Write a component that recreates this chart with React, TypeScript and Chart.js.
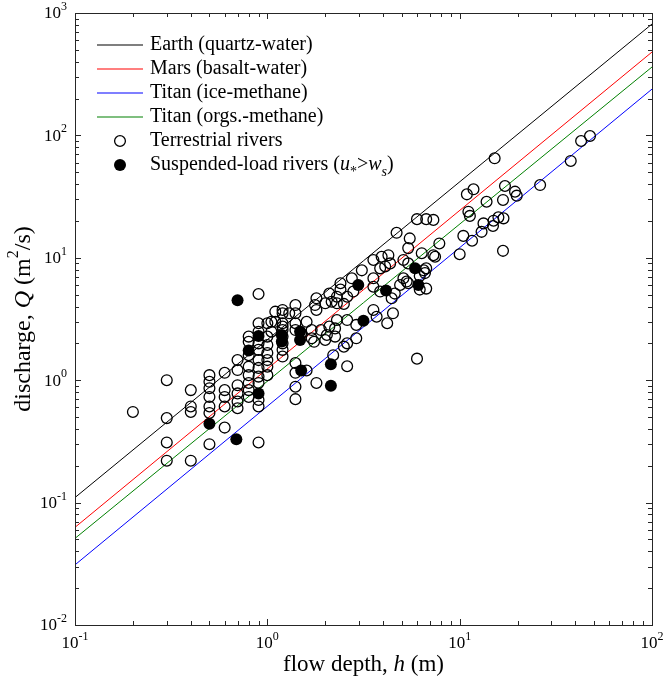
import React, { useEffect, useRef } from "react";
import { Chart, registerables } from "chart.js";

Chart.register(...registerables);

// ---- data ----
const lineH = [0.1, 100];
const earthQ = [0.11, 813];
const marsQ = [0.0628, 480];
const titanIceQ = [0.031, 239];
const titanOrgQ = [0.051, 362];

const terrestrialH = [
  0.2,
  0.3, 0.3, 0.3, 0.3,
  0.4, 0.4, 0.4, 0.4,
  0.5, 0.5, 0.5, 0.5, 0.5, 0.5, 0.5,
  0.6, 0.6, 0.6, 0.6, 0.6,
  0.7, 0.7, 0.7, 0.7, 0.7, 0.7,
  0.8, 0.8, 0.8, 0.8, 0.8, 0.8, 0.8, 0.8,
  0.9, 0.9, 0.9, 0.9, 0.9, 0.9, 0.9, 0.9, 0.9, 0.9, 0.9, 0.9,
  1.0, 1.0, 1.0, 1.0, 1.0, 1.0, 1.0, 1.05, 1.05,
  1.1, 1.1,
  1.2, 1.2, 1.2, 1.2, 1.2, 1.2, 1.2, 1.2, 1.2,
  1.3,
  1.4, 1.4, 1.4, 1.4, 1.4, 1.4, 1.4, 1.4,
  1.5, 1.6, 1.7, 1.7, 1.75, 1.8, 1.77, 1.8,
  2.0, 1.9, 2.04, 2.0, 2.1, 2.16, 2.1, 2.25, 2.25,
  2.3, 2.3, 2.3, 2.4, 2.4, 2.5, 2.5, 2.6, 2.6, 2.6,
  2.75, 2.8, 2.9, 2.9, 3.1,
  3.56, 3.56, 3.56, 3.56, 3.7, 3.86, 3.86, 3.93, 4.1, 4.2, 4.26, 4.35,
  4.43, 4.5, 4.6, 4.7, 4.9, 5.1, 5.1, 5.3, 5.4, 5.4, 5.4, 5.5,
  6.0, 6.0, 6.2, 6.2, 6.35, 6.5, 6.6, 6.7, 6.7, 6.7, 7.3, 7.3, 7.45, 7.84,
  10.0, 10.45, 10.9, 11.1, 11.3, 11.6, 11.8, 13.0, 13.3, 13.8,
  14.9, 15.0, 15.2, 15.9, 16.8, 16.8, 16.9, 17.2, 19.4, 19.8,
  26.2, 37.8, 42.8, 47.6,
  1.6, 1.8, 2.2, 2.6,
];
const terrestrialQ = [
  0.55,
  1.0, 0.49, 0.31, 0.22,
  0.83, 0.61, 0.55, 0.22,
  1.1, 0.97, 0.86, 0.73, 0.61, 0.54, 0.3,
  1.15, 0.83, 0.73, 0.61, 0.41,
  1.46, 1.21, 0.91, 0.78, 0.67, 0.59,
  2.27, 2.06, 1.6, 1.29, 1.1, 0.95, 0.83, 0.73,
  5.06, 2.92, 2.49, 2.0, 1.77, 1.46, 1.26, 1.07, 0.95, 0.69, 0.61, 0.31,
  2.92, 2.27, 1.94, 1.67, 1.46, 1.29, 1.1, 2.49, 3.0,
  3.63, 3.0,
  3.75, 3.52, 2.92, 2.74, 2.57, 2.27, 2.0, 1.77, 1.56,
  3.52,
  4.11, 3.52, 2.92, 2.57, 1.38, 1.15, 0.885, 0.7,
  2.42, 3.0, 2.57, 2.2, 2.06, 4.67, 4.11, 3.75,
  4.25, 2.57, 2.34, 2.13, 5.1, 4.38, 2.74, 2.65, 2.27,
  4.25, 4.81, 3.1, 5.5, 6.2, 4.2, 1.88, 4.81, 3.1, 2.0,
  6.8, 5.3, 2.83, 2.2, 7.9,
  9.6, 6.8, 5.8, 3.75, 3.3, 8.2, 5.3, 10.2, 8.5, 2.92, 10.5, 9.0,
  4.67, 3.52, 5.1, 16.0, 6.0, 9.6, 6.8, 6.4, 9.0, 6.2, 12.0, 14.4,
  20.7, 1.5, 5.5, 7.1, 10.9, 7.9, 7.5, 20.7, 8.2, 5.6, 20.4, 10.5, 10.2, 13.1,
  10.7, 15.1, 33.0, 23.8, 22.0, 13.8, 36.3, 16.3, 19.1, 28.7,
  18.2, 20.1, 65.0, 21.4, 29.7, 11.4, 21.0, 38.6, 34.7, 32.2,
  39.3, 61.8, 90.0, 98.9,
  1.2, 0.95, 1.6, 1.3,
];

const suspendedH = [0.7, 0.5, 0.69, 0.8, 0.9, 0.9, 1.19, 1.19, 1.48, 1.48, 1.5, 2.14, 2.14, 2.97, 3.16, 4.14, 5.86, 6.1];
const suspendedQ = [4.5, 0.44, 0.33, 1.75, 2.3, 0.78, 2.34, 2.07, 2.5, 2.13, 1.2, 1.35, 0.9, 6.0, 3.06, 5.4, 8.2, 6.0];

const xTickExps = [-1, 0, 1, 2];
const yTickExps = [-2, -1, 0, 1, 2, 3];

const legendLabels = [
  "Earth (quartz-water)",
  "Mars (basalt-water)",
  "Titan (ice-methane)",
  "Titan (orgs.-methane)",
  "Terrestrial rivers",
];

const lineColors = ["#000000", "#ff0000", "#0000ff", "#008000"];

const SERIF = '"Liberation Serif", "Times New Roman", Times, serif';

type Seg = { t: string; italic?: boolean; sup?: boolean; sub?: boolean };

function segFont(s: Seg, size: number) {
  const sz = s.sup || s.sub ? Math.round(size * 0.68) : size;
  return `${s.italic ? "italic " : ""}${sz}px ${SERIF}`;
}

function measureSegs(ctx: CanvasRenderingContext2D, segs: Seg[], size: number) {
  let w = 0;
  for (const s of segs) {
    ctx.font = segFont(s, size);
    w += ctx.measureText(s.t).width;
  }
  return w;
}

function drawSegs(
  ctx: CanvasRenderingContext2D,
  segs: Seg[],
  x: number,
  y: number,
  size: number,
  align: "left" | "center" | "right"
) {
  const w = measureSegs(ctx, segs, size);
  let cx = align === "left" ? x : align === "center" ? x - w / 2 : x - w;
  ctx.textBaseline = "middle";
  ctx.textAlign = "left";
  for (const s of segs) {
    ctx.font = segFont(s, size);
    const dy = s.sup ? -size * 0.42 : s.sub ? size * 0.38 : 0;
    ctx.fillText(s.t, cx, y + dy);
    cx += ctx.measureText(s.t).width;
  }
}

const decorPlugin = {
  id: "decor",
  afterDraw(chart: any) {
    const ctx: CanvasRenderingContext2D = chart.ctx;
    const { left, right, top, bottom } = chart.chartArea;
    const xs = chart.scales.x;
    const ys = chart.scales.y;
    ctx.save();
    ctx.fillStyle = "#000";

    // frame
    ctx.strokeStyle = "#262626";
    ctx.lineWidth = 1;
    ctx.strokeRect(Math.round(left) + 0.5, Math.round(top) + 0.5, Math.round(right - left), Math.round(bottom - top));

    // ticks
    const drawXTick = (v: number, len: number) => {
      const px = Math.round(xs.getPixelForValue(v)) + 0.5;
      ctx.beginPath();
      ctx.moveTo(px, bottom);
      ctx.lineTo(px, bottom - len);
      ctx.moveTo(px, top);
      ctx.lineTo(px, top + len);
      ctx.stroke();
    };
    const drawYTick = (v: number, len: number) => {
      const py = Math.round(ys.getPixelForValue(v)) + 0.5;
      ctx.beginPath();
      ctx.moveTo(left, py);
      ctx.lineTo(left + len, py);
      ctx.moveTo(right, py);
      ctx.lineTo(right - len, py);
      ctx.stroke();
    };
    xTickExps.forEach((e, i) => {
      drawXTick(Math.pow(10, e), 6);
      if (i < xTickExps.length - 1) for (let m = 2; m <= 9; m++) drawXTick(m * Math.pow(10, e), 4);
    });
    yTickExps.forEach((e, i) => {
      drawYTick(Math.pow(10, e), 6);
      if (i < yTickExps.length - 1) for (let m = 2; m <= 9; m++) drawYTick(m * Math.pow(10, e), 4);
    });

    // tick labels
    ctx.fillStyle = "#000";
    xTickExps.forEach((e) => {
      const px = xs.getPixelForValue(Math.pow(10, e));
      drawSegs(ctx, [{ t: "10" }, { t: String(e), sup: true }], px, bottom + 19, 17, "center");
    });
    yTickExps.forEach((e) => {
      const py = ys.getPixelForValue(Math.pow(10, e));
      drawSegs(ctx, [{ t: "10" }, { t: String(e), sup: true }], left - 8, py + 1, 17, "right");
    });

    // axis titles
    drawSegs(
      ctx,
      [{ t: "flow depth, " }, { t: "h", italic: true }, { t: " (m)" }],
      (left + right) / 2,
      bottom + 40,
      23,
      "center"
    );
    ctx.save();
    ctx.translate(24, (top + bottom) / 2);
    ctx.rotate(-Math.PI / 2);
    drawSegs(
      ctx,
      [{ t: "discharge, " }, { t: "Q", italic: true }, { t: " (m" }, { t: "2", sup: true }, { t: "/s)" }],
      0,
      0,
      24,
      "center"
    );
    ctx.restore();

    // legend
    const lx0 = 97;
    const lx1 = 143;
    const tx = 150;
    const rowY = (i: number) => 45 + i * 24;
    for (let i = 0; i < lineColors.length; i++) {
      ctx.save();
      ctx.strokeStyle = lineColors[i];
      ctx.lineWidth = 1.2;
      ctx.beginPath();
      ctx.moveTo(lx0, rowY(i));
      ctx.lineTo(lx1, rowY(i));
      ctx.stroke();
      ctx.restore();
    }
    ctx.fillStyle = "#000";
    legendLabels.forEach((t, i) => {
      drawSegs(ctx, [{ t }], tx, rowY(i), 20, "left");
    });
    // open marker
    ctx.strokeStyle = "#000";
    ctx.lineWidth = 1.3;
    ctx.beginPath();
    ctx.arc((lx0 + lx1) / 2, rowY(4), 5.4, 0, Math.PI * 2);
    ctx.stroke();
    // filled marker
    ctx.beginPath();
    ctx.arc((lx0 + lx1) / 2, rowY(5), 6, 0, Math.PI * 2);
    ctx.fill();
    drawSegs(
      ctx,
      [
        { t: "Suspended-load rivers (" },
        { t: "u", italic: true },
        { t: "*", sub: true },
        { t: ">" },
        { t: "w", italic: true },
        { t: "s", italic: true, sub: true },
        { t: ")" },
      ],
      tx,
      rowY(5),
      20,
      "left"
    );
    ctx.restore();
  },
};

export default function App() {
  const ref = useRef<HTMLCanvasElement | null>(null);
  useEffect(() => {
    if (!ref.current) return;
    const mkLine = (label: string, ys: number[], color: string) => ({
      label,
      data: lineH.map((x, i) => ({ x, y: ys[i] })),
      showLine: true,
      borderColor: color,
      backgroundColor: color,
      borderWidth: 1,
      pointRadius: 0,
      fill: false,
      order: 1,
    });
    const chart = new Chart(ref.current, {
      type: "scatter",
      data: {
        datasets: [
          mkLine(legendLabels[0], earthQ, lineColors[0]),
          mkLine(legendLabels[1], marsQ, lineColors[1]),
          mkLine(legendLabels[2], titanIceQ, lineColors[2]),
          mkLine(legendLabels[3], titanOrgQ, lineColors[3]),
          {
            label: legendLabels[4],
            data: terrestrialH.map((x, i) => ({ x, y: terrestrialQ[i] })),
            pointRadius: 5.4,
            pointBorderWidth: 1.3,
            pointBorderColor: "#000",
            pointBackgroundColor: "rgba(0,0,0,0)",
            showLine: false,
            order: 0,
          },
          {
            label: "Suspended-load rivers",
            data: suspendedH.map((x, i) => ({ x, y: suspendedQ[i] })),
            pointRadius: 6,
            pointBorderWidth: 0,
            pointBorderColor: "#000",
            pointBackgroundColor: "#000",
            showLine: false,
            order: 0,
          },
        ] as any,
      },
      options: {
        responsive: false,
        animation: false,
        events: [],
        layout: { padding: { left: 0, right: 12, top: 13, bottom: 0 } },
        plugins: { legend: { display: false }, tooltip: { enabled: false } },
        scales: {
          x: {
            type: "logarithmic",
            min: 0.1,
            max: 100,
            grid: { display: false },
            border: { display: false },
            ticks: { display: false },
            afterFit: (s: any) => {
              s.height = 54;
            },
          },
          y: {
            type: "logarithmic",
            min: 0.01,
            max: 1000,
            grid: { display: false },
            border: { display: false },
            ticks: { display: false },
            afterFit: (s: any) => {
              s.width = 75;
            },
          },
        },
      } as any,
      plugins: [decorPlugin],
    });
    return () => chart.destroy();
  }, []);
  return (
    <div style={{ position: "fixed", left: 0, top: 0, width: 664, height: 679, background: "#fff" }}>
      <canvas ref={ref} width={664} height={679} style={{ display: "block", width: 664, height: 679 }} />
    </div>
  );
}
